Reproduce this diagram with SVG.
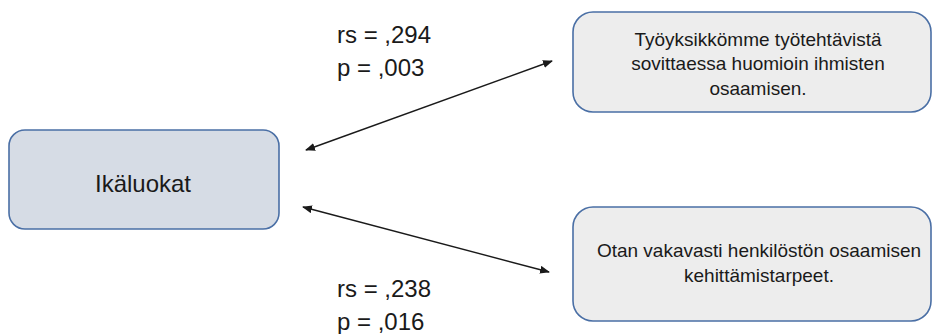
<svg xmlns="http://www.w3.org/2000/svg" width="935" height="334" viewBox="0 0 935 334">
<style>
.box{stroke:#4a6fa5;stroke-width:1.6}
.t{font-family:"Liberation Sans",Arial,sans-serif;fill:#1a1a1a;text-anchor:middle}
.lbl{font-family:"Liberation Sans",Arial,sans-serif;fill:#1a1a1a;font-size:24px}
.conn{stroke:#1a1a1a;stroke-width:1.4;fill:none;marker-start:url(#ah);marker-end:url(#ah)}
</style>
<defs>
<marker id="ah" viewBox="0 0 10 8" refX="9" refY="4" markerWidth="10" markerHeight="8" markerUnits="userSpaceOnUse" orient="auto-start-reverse">
<path d="M0,0 L10,4 L0,8 Z" fill="#1a1a1a"/>
</marker>
</defs>
<rect width="935" height="334" fill="#ffffff"/>
<g id="connectors">
<line class="conn" x1="306" y1="150" x2="552" y2="61"/>
<line class="conn" x1="303" y1="207" x2="549" y2="272"/>
</g>
<g id="labels">
<text class="lbl" x="337" y="43">rs = ,294</text>
<text class="lbl" x="337" y="76">p = ,003</text>
<text class="lbl" x="337" y="297">rs = ,238</text>
<text class="lbl" x="337" y="330">p = ,016</text>
</g>
<g id="node-ikaluokat">
<rect class="box" x="9" y="130" width="270" height="99" rx="16" fill="#d6dce5"/>
<text class="t" x="143" y="192" font-size="24">Ikäluokat</text>
</g>
<g id="node-tyoyksikko">
<rect class="box" x="573" y="12" width="358" height="100" rx="20" fill="#ededed"/>
<text class="t" x="758" y="46" font-size="19">Työyksikkömme työtehtävistä</text>
<text class="t" x="758" y="70" font-size="19">sovittaessa huomioin ihmisten</text>
<text class="t" x="758" y="95" font-size="19">osaamisen.</text>
</g>
<g id="node-otan">
<rect class="box" x="573" y="207" width="358" height="114" rx="20" fill="#ededed"/>
<text class="t" x="759" y="257" font-size="19">Otan vakavasti henkilöstön osaamisen</text>
<text class="t" x="759" y="282" font-size="19">kehittämistarpeet.</text>
</g>
</svg>
